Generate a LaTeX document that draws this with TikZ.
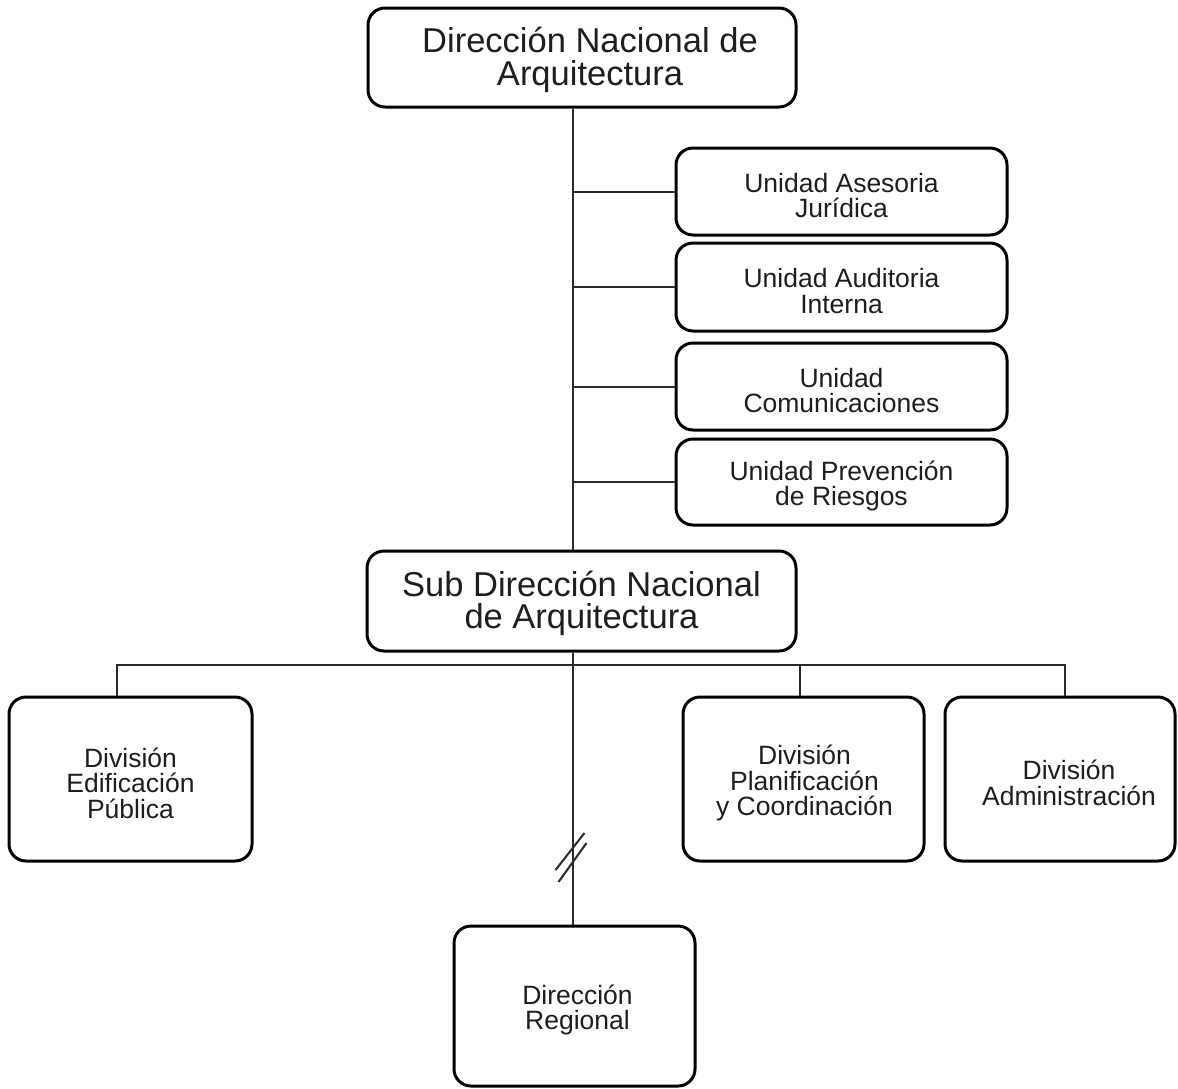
\documentclass[tikz,border=0pt]{standalone}
\usepackage{fontspec}
\setmainfont{Liberation Sans}
\definecolor{txt}{HTML}{1E1E1E}
\definecolor{conn}{HTML}{2A2A2A}
\begin{document}
\begin{tikzpicture}[x=1pt,y=-1pt,
  box/.style={draw=black, line width=3pt, rounded corners=17pt, fill=white, inner sep=0pt},
  bigtxt/.style={align=center, text=txt, inner sep=0pt, font=\fontsize{34.5}{32.5}\selectfont, yshift=-2.5pt},
  smalltxt/.style={align=center, text=txt, inner sep=0pt, font=\fontsize{26.5}{25.5}\selectfont, yshift=-4pt},
  link/.style={draw=conn, line width=2pt}]
\useasboundingbox[fill=white] (0,0) rectangle (1178,1088);

\node[box, minimum width=428pt, minimum height=99pt,
  label={[bigtxt, xshift=8pt]center:{Dirección Nacional de\\Arquitectura}}] (dna) at (582,57.5) {};
\node[box, minimum width=331pt, minimum height=87pt,
  label={[smalltxt]center:{Unidad Asesoria\\Jurídica}}] (u1) at (841.5,191.5) {};
\node[box, minimum width=331pt, minimum height=88pt,
  label={[smalltxt]center:{Unidad Auditoria\\Interna}}] (u2) at (841.5,287) {};
\node[box, minimum width=331pt, minimum height=87pt,
  label={[smalltxt]center:{Unidad\\Comunicaciones}}] (u3) at (841.5,386.5) {};
\node[box, minimum width=331pt, minimum height=86pt,
  label={[smalltxt]center:{Unidad Prevención\\de Riesgos}}] (u4) at (841.5,482) {};
\node[box, minimum width=429pt, minimum height=100pt,
  label={[bigtxt]center:{Sub Dirección Nacional\\de Arquitectura}}] (sub) at (581.5,601) {};
\node[box, minimum width=243pt, minimum height=164pt,
  label={[smalltxt]center:{División\\Edificación\\Pública}}] (dep) at (130.5,779) {};
\node[box, minimum width=241pt, minimum height=164pt,
  label={[smalltxt, xshift=1pt]center:{División\\Planificación\\y Coordinación}}] (dpc) at (803.5,779) {};
\node[box, minimum width=230pt, minimum height=164pt,
  label={[smalltxt, xshift=9pt]center:{División\\Administración}}] (dad) at (1060,779) {};
\node[box, minimum width=241pt, minimum height=160pt,
  label={[smalltxt, xshift=3pt]center:{Dirección\\Regional}}] (dr) at (574.5,1006) {};

\coordinate (spine) at (572.5,0);
\coordinate (bL) at (117,665);
\coordinate (bM) at (800,665);
\coordinate (bR) at (1065,665);

\path[link] (dna.south -| spine) -- (sub.north -| spine);
\foreach \u in {u1,u2,u3,u4}{\path[link] (\u.west -| spine) -- (\u.west);}
\path[link] (bL |- dep.north) -- (bL) -- (bR) -- (bR |- dad.north);
\path[link] (bM) -- (bM |- dpc.north);
\path[link] (sub.south -| spine) -- (dr.north -| spine);
\coordinate (brk) at (572.5,858);
\draw[conn, line width=2pt] ([shift={(-17,12)}]brk) -- ([shift={(12,-25)}]brk);
\draw[conn, line width=2pt] ([shift={(-14,24)}]brk) -- ([shift={(14,-15)}]brk);
\end{tikzpicture}
\end{document}
